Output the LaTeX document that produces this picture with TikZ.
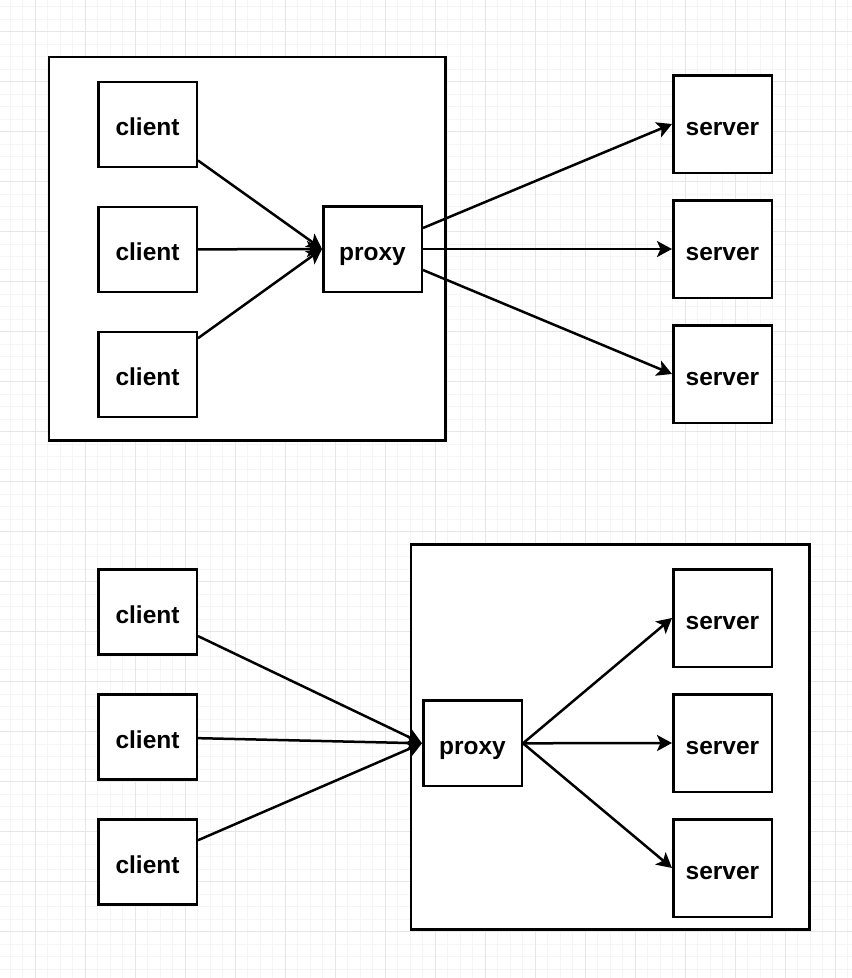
\documentclass[tikz,border=0pt]{standalone}
\usepackage{fontspec}
\setmainfont{Liberation Sans}
\usetikzlibrary{arrows.meta}
\definecolor{gridminor}{HTML}{F5F5F5}
\definecolor{gridmajor}{HTML}{E6E6E6}
\tikzset{
 boite/.style={draw,line width=2.5pt,fill=white,minimum width=98.5pt,text height=26pt,text depth=4pt,font=\fontsize{24.5}{29}\selectfont\bfseries},
 petite/.style={boite,minimum height=85pt},
 grande/.style={boite,minimum height=97.5pt},
 cadre/.style={line width=2.5pt},
 fleche/.style={line width=2.5pt,-{Stealth[length=15pt,width=16pt,inset=3.5pt]}}
}
\begin{document}
\begin{tikzpicture}[x=1pt,y=-1pt]
 \useasboundingbox (0,0) rectangle (852,978);
 %grille
 \foreach \i in {0,...,67} \draw[gridminor,line width=1pt] (10.3+12.5*\i,0)--(10.3+12.5*\i,978);
 \foreach \i in {0,...,77} \draw[gridminor,line width=1pt] (0,6.7+12.5*\i)--(852,6.7+12.5*\i);
 \foreach \i in {0,...,16} \draw[gridmajor,line width=1pt] (35.3+50*\i,0)--(35.3+50*\i,978);
 \foreach \i in {0,...,18} \draw[gridmajor,line width=1pt] (0,31.7+50*\i)--(852,31.7+50*\i);
 %cadre 1 (haut)
 \draw[cadre,fill=white] (49,57) rectangle (445.7,440.7);
 \node[petite] (c1) at (147.5,124.5) {client};
 \node[petite] (c2) at (147.5,249.5) {client};
 \node[petite] (c3) at (147.5,374.5) {client};
 \node[petite,minimum height=85.5pt] (p1) at (372.5,249) {proxy};
 \node[grande] (s1) at (722.5,124) {server};
 \node[grande] (s2) at (722.5,249) {server};
 \node[grande] (s3) at (722.5,374) {server};
 \foreach \c in {c1,c2,c3} \draw[fleche] (\c)--(p1.west);
 \foreach \s in {s1,s2,s3} \draw[fleche] (p1)--(\s.west);
 %cadre 2 (bas)
 \draw[cadre,fill=white] (411.2,544.5) rectangle (809.5,929.5);
 \node[petite] (c4) at (147.5,612) {client};
 \node[petite] (c5) at (147.5,737) {client};
 \node[petite] (c6) at (147.5,862) {client};
 \node[petite,minimum height=85.5pt] (p2) at (472.5,743.3) {proxy};
 \node[grande] (s4) at (722.5,618) {server};
 \node[grande] (s5) at (722.5,743) {server};
 \node[grande] (s6) at (722.5,868) {server};
 \foreach \c in {c4,c5,c6} \draw[fleche] (\c)--(p2.west);
 \foreach \s in {s4,s5,s6} \draw[fleche] (p2.east)--(\s.west);
\end{tikzpicture}
\end{document}
